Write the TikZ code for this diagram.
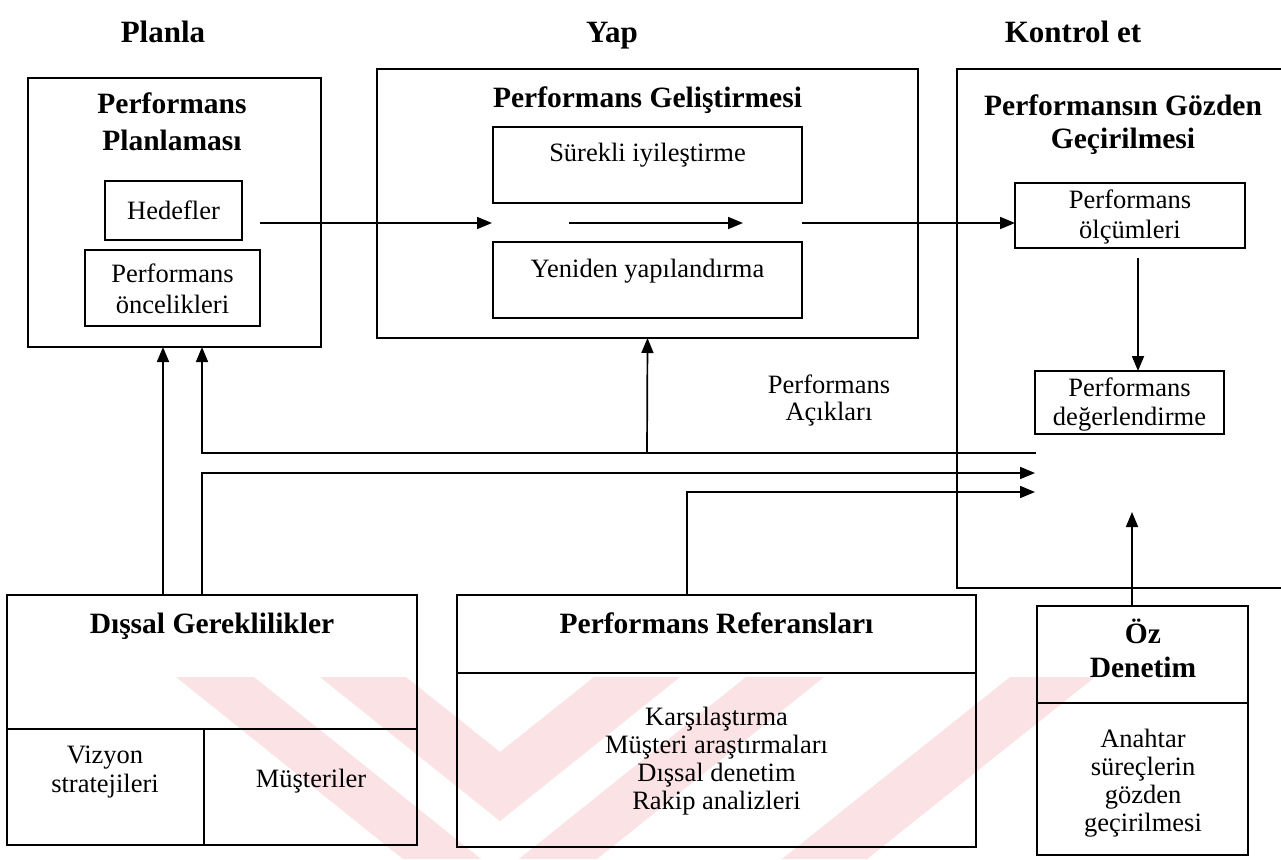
\documentclass[tikz,border=0pt]{standalone}
\usepackage{fontspec}
\setmainfont{Liberation Serif}
\usetikzlibrary{arrows.meta}
\definecolor{wmpink}{RGB}{251,226,229}
\begin{document}
\begin{tikzpicture}[x=1pt,y=-1pt,
  frame/.style={draw=black, line width=1.7pt, inner sep=0pt, outer sep=0pt},
  txt/.style={font=\fontsize{26.5}{30}\selectfont, inner sep=0pt, anchor=base},
  hd/.style={font=\fontsize{29.5}{34}\selectfont\bfseries, inner sep=0pt, anchor=base},
  colhd/.style={font=\fontsize{31}{36}\selectfont\bfseries, inner sep=0pt, anchor=base},
  link/.style={line width=1.7pt},
  flow/.style={line width=1.7pt, -{Triangle[length=15pt,width=12pt]}},
  wm/.style={fill=wmpink, draw=none}
]
\useasboundingbox (0,0) rectangle (1281,859);
\fill[white] (0,0) rectangle (1281,859);

% faint chevron background mark
\fill[wm] (176,677) -- (254,677) -- (481,859) -- (403,859) -- cycle;
\fill[wm] (320,677) -- (406,677) -- (500,752) -- (594,677) -- (680,677) -- (500,821) -- cycle;
\fill[wm] (746,677) -- (824,677) -- (597,859) -- (519,859) -- cycle;
\fill[wm] (1010,677) -- (1095,677) -- (867,859) -- (782,859) -- cycle;

% column headings
\node[colhd] (hPlan) at (163,42) {Planla};
\node[colhd] (hYap) at (612,42) {Yap};
\node[colhd] (hKon) at (1073,42) {Kontrol et};

% Plan box
\node[frame, minimum width=293, minimum height=269] (plan) at (174.5,212.5) {};
\node[hd] (planT1) at (172,113) {Performans};
\node[hd] (planT2) at (172,150) {Planlaması};
\node[frame, minimum width=137, minimum height=59] (hedef) at (173.5,210.5) {};
\node[txt] (hedefT) at (173.5,219) {Hedefler};
\node[frame, minimum width=175, minimum height=76] (oncel) at (172.5,288) {};
\node[txt] (oncelT1) at (172.5,282) {Performans};
\node[txt] (oncelT2) at (172.5,313) {öncelikleri};

% Do box
\node[frame, minimum width=541, minimum height=269] (gelis) at (647.5,203.5) {};
\node[hd] (gelisT) at (647.5,107) {Performans Geliştirmesi};
\node[frame, minimum width=309, minimum height=76] (surek) at (647.5,165) {};
\node[txt] (surekT) at (647.5,161) {Sürekli iyileştirme};
\node[frame, minimum width=309, minimum height=76] (yeni) at (647.5,280) {};
\node[txt] (yeniT) at (647.5,277) {Yeniden yapılandırma};

% Check box (runs off the right edge)
\node[frame, minimum width=333, minimum height=519] (gozden) at (1123.5,328.5) {};
\node[hd] (gozT1) at (1123,115) {Performansın Gözden};
\node[hd] (gozT2) at (1123,148) {Geçirilmesi};
\node[frame, minimum width=230, minimum height=65] (olcum) at (1130,215.5) {};
\node[txt] (olcumT1) at (1130,208) {Performans};
\node[txt] (olcumT2) at (1130,238) {ölçümleri};
\node[frame, minimum width=189, minimum height=63] (deger) at (1129.5,402.5) {};
\node[txt] (degerT1) at (1129.5,396) {Performans};
\node[txt] (degerT2) at (1129.5,425) {değerlendirme};

\node[txt] (acikT1) at (829,393) {Performans};
\node[txt] (acikT2) at (829,420) {Açıkları};

% External requirements
\node[frame, minimum width=410, minimum height=250] (dis) at (212,720) {};
\draw[link] (7,729) -- (417,729);
\draw[link] (204,729) -- (204,845);
\node[hd] (disT) at (212,633) {Dışsal Gereklilikler};
\node[txt] (vizT1) at (105,763) {Vizyon};
\node[txt] (vizT2) at (105,792) {stratejileri};
\node[txt] (musT) at (311,787) {Müşteriler};

% Performance references
\node[frame, minimum width=519, minimum height=252] (ref) at (716.5,721) {};
\draw[link] (457,673) -- (976,673);
\node[hd] (refT) at (716.5,633) {Performans Referansları};
\node[txt] (refA) at (716.5,725) {Karşılaştırma};
\node[txt] (refB) at (716.5,753) {Müşteri araştırmaları};
\node[txt] (refC) at (716.5,781) {Dışsal denetim};
\node[txt] (refD) at (716.5,809) {Rakip analizleri};

% Self assessment
\node[frame, minimum width=211, minimum height=249] (oz) at (1142.5,730.5) {};
\draw[link] (1037,703) -- (1248,703);
\node[hd] (ozT1) at (1143,643) {Öz};
\node[hd] (ozT2) at (1143,677) {Denetim};
\node[txt] (ozA) at (1143,747) {Anahtar};
\node[txt] (ozB) at (1143,775) {süreçlerin};
\node[txt] (ozC) at (1143,803) {gözden};
\node[txt] (ozD) at (1143,831) {geçirilmesi};

% free ends inside the check box
\coordinate (gapEnd) at (1036,453);
\coordinate (inA) at (1035,473);
\coordinate (inB) at (1035,492);
\coordinate (inC) at (1132,512);

% connectors
\draw[flow] (260,223) -- (492,223);
\draw[flow] (569,223) -- (743,223);
\draw[flow] (802,223) -- (802,223 -| olcum.west);
\draw[flow] (1138,258) -- (deger.north -| 1138,0);
\draw[flow] (dis.north -| 163,0) -- (plan.south -| 163,0);
\draw[flow] (gapEnd) -- (202,453) -- (plan.south -| 202,0);
\draw[flow] (647,453) -- (gelis.south);
\draw[flow] (dis.north -| 202,0) -- (202,473) -- (inA);
\draw[flow] (ref.north -| 687,0) -- (687,492) -- (inB);
\draw[flow] (oz.north -| inC) -- (inC);
\end{tikzpicture}
\end{document}
